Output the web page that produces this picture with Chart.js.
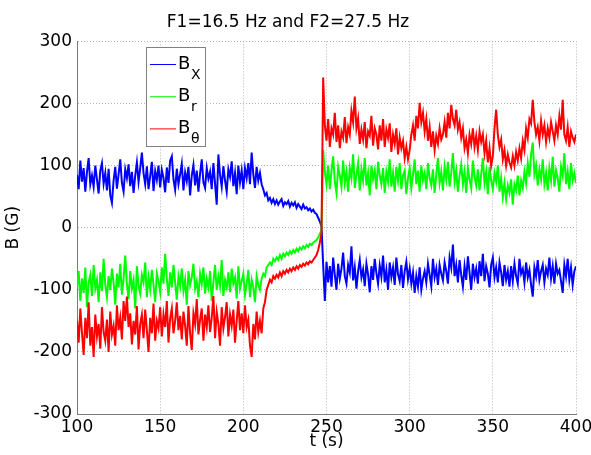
<!DOCTYPE html>
<html>
<head>
<meta charset="utf-8">
<script src="https://cdn.jsdelivr.net/npm/chart.js@4.4.0/dist/chart.umd.min.js"></script>
<style>
  html, body { margin: 0; padding: 0; background: #fff; }
  #myChart { display: block; }
</style>
</head>
<body>
<canvas id="myChart" width="591" height="455"></canvas>
<script>
// time axis: one sample per second, 100 s .. 400 s
const times = [];
for (let s = 100; s <= 400; s++) times.push(s);

const bx = [
  85, 62, 108, 74, 96, 58, 90, 112, 70, 84,
  66, 100, 78, 55, 92, 104, 71, 88, 60, 95,
  52, 40, 76, 98, 63, 86, 110, 72, 58, 94,
  80, 102, 67, 90, 56, 84, 105, 74, 96, 121,
  88, 70, 99, 62, 83, 106, 59, 91, 77, 100,
  65, 93, 80, 57, 97, 72, 108, 115, 78, 61,
  95, 70, 86, 103, 60, 89, 75, 98, 52, 84,
  101, 68, 92, 58, 87, 110, 73, 64, 96, 79,
  90, 62, 104, 71, 37, 118, 85, 66, 99, 76,
  58, 94, 82, 107, 67, 88, 54, 100, 73, 92,
  62, 96, 80, 104, 70, 121, 86, 64, 98, 76,
  88, 70, 62, 52, 56, 44, 48, 40, 46, 38,
  44, 37, 42, 46, 35, 41, 38, 43, 34, 40,
  36, 41, 32, 38, 34, 30, 37, 31, 33, 28,
  31, 26, 29, 24, 22, 16, 10, 2, -60, -118,
  -55, -88, -62, -95, -48, -76, -100, -58, -82, -66,
  -40, -78, -90, -60, -72, -30, -85, -64, -98, -70,
  -52, -80, -67, -94, -58, -75, -104, -62, -84, -50,
  -73, -90, -61, -79, -45, -88, -68, -100, -56, -80,
  -64, -92, -48, -75, -86, -60, -97, -70, -55, -83,
  -66, -90, -72, -105, -78, -95, -64, -100, -82, -70,
  -88, -58, -76, -94, -50, -80, -66, -92, -60, -74,
  -85, -56, -70, -90, -48, -64, -27, -78, -60, -88,
  -52, -76, -95, -62, -84, -46, -72, -100, -58, -80,
  -66, -90, -54, -78, -42, -86, -62, -74, -96, -60,
  -48, -80, -64, -88, -56, -72, -94, -60, -84, -70,
  -95, -62, -86, -58, -78, -90, -50, -74, -66, -88,
  -56, -80, -68, -92, -111, -64, -78, -52, -84, -70,
  -60, -88, -66, -76, -48, -82, -62, -90, -58, -74,
  -68, -86, -105, -60, -78, -50, -84, -64, -92, -70,
  -62
];

const br = [
  -95, -70, -118, -82, -105, -64, -128, -88, -76, -110,
  -60, -98, -84, -120, -72, -102, -50, -92, -112, -78,
  -100, -66, -88, -124, -74, -96, -58, -108, -82, -45,
  -90, -115, -70, -98, -84, -130, -62, -94, -106, -76,
  -88, -56, -112, -80, -100, -68, -92, -120, -74, -86,
  -104, -64, -90, -42, -82, -110, -72, -96, -60, -88,
  -116, -78, -94, -66, -102, -84, -124, -70, -92, -80,
  -58, -98, -86, -112, -74, -90, -64, -106, -82, -96,
  -70, -118, -88, -60, -100, -78, -94, -52, -110, -84,
  -96, -72, -104, -66, -90, -80, -114, -62, -98, -86,
  -74, -108, -90, -68, -112, -84, -96, -120, -78, -92,
  -100, -82, -74, -78, -64, -60, -56, -60, -50, -54,
  -48, -52, -44, -50, -42, -46, -40, -44, -38, -42,
  -36, -40, -34, -38, -32, -35, -30, -33, -28, -31,
  -26, -28, -24, -22, -20, -16, -10, -4, 125, 90,
  70, 100, 62, 92, 115, 74, 56, 98, 84, 66,
  108, 72, 90, 58, 96, 80, 118, 64, 86, 104,
  60, 94, 76, 112, 68, 88, 52, 100, 78, 92,
  62, 106, 84, 70, 96, 56, 90, 74, 110, 66,
  88, 58, 98, 76, 104, 62, 84, 92, 54, 80,
  96, 64, 86, 110, 70, 92, 58, 100, 76, 88,
  62, 104, 80, 68, 94, 56, 86, 112, 72, 90,
  60, 98, 78, 106, 66, 88, 120, 74, 92, 58,
  84, 102, 70, 90, 56, 96, 78, 64, 108, 82,
  68, 94, 60, 86, 112, 72, 90, 54, 98, 76,
  62, 88, 74, 100, 58, 80, 50, 72, 46, 68,
  56, 78, 37, 70, 60, 84, 52, 76, 64, 90,
  72, 104, 82, 118, 137, 86, 100, 68, 94, 78,
  110, 70, 88, 60, 96, 76, 114, 66, 92, 80,
  58, 98, 84, 120, 70, 90, 62, 104, 76, 88,
  72
];

const btheta = [
  -150, -185, -130, -170, -205, -145, -178, -120, -190, -160,
  -208, -140, -175, -155, -195, -128, -168, -182, -148, -200,
  -135, -172, -158, -190, -125, -165, -145, -180, -118, -150,
  -111, -160, -138, -188, -150, -172, -126, -196, -155, -140,
  -178, -132, -165, -200, -145, -170, -122, -182, -150, -162,
  -128, -175, -140, -160, -118, -185, -146, -130, -170, -150,
  -120, -165, -142, -180, -135, -158, -190, -126, -170, -197,
  -138, -155, -115, -172, -148, -130, -182, -140, -160, -125,
  -168, -145, -110, -178, -136, -155, -190, -128, -162, -144,
  -120, -175, -140, -158, -132, -185, -150, -118, -165, -138,
  -170, -125, -160, -148, -190, -208, -155, -180, -135, -168,
  -150, -170, -130, -120, -100, -92, -84, -88, -78, -82,
  -76, -80, -72, -78, -70, -74, -68, -72, -66, -70,
  -64, -68, -62, -66, -60, -63, -58, -61, -56, -59,
  -54, -56, -52, -48, -44, -36, -24, -8, 242, 165,
  140, 175, 130, 160, 150, 185, 138, 165, 128, 155,
  145, 178, 136, 162, 150, 188, 170, 211, 160, 176,
  135, 158, 142, 170, 128, 155, 148, 180, 132, 160,
  150, 126, 165, 140, 175, 130, 158, 145, 168, 122,
  150, 135, 160, 118, 145, 128, 140, 112, 130, 110,
  125, 150, 165, 140, 180, 160, 201, 170, 185, 155,
  175, 140, 162, 130, 155, 125, 148, 135, 160, 142,
  150, 170, 145, 185, 160, 198, 175, 165, 190, 158,
  170, 145, 160, 128, 142, 120, 150, 135, 160, 130,
  148, 125, 155, 138, 150, 120, 140, 105, 128, 100,
  115, 160, 190, 150, 130, 142, 110, 125, 100, 118,
  105, 97, 115, 100, 122, 108, 128, 112, 140, 125,
  160, 145, 175, 168, 206, 170, 150, 162, 140, 172,
  150, 165, 138, 160, 145, 170, 155, 140, 165, 150,
  180, 158, 206, 150, 140, 162, 130, 155, 145, 138,
  150
];

const xTicks = [100, 150, 200, 250, 300, 350, 400];
const yTicks = [-300, -200, -100, 0, 100, 200, 300];
const legendSubs = ['X', 'r', 'θ'];

const FONT = 'DejaVu Sans';

function points(vals) {
    return vals.map((v, i) => ({ x: times[i], y: v }));
}

// MATLAB style legend box with subscripts
const subLegend = {
    id: 'subLegend',
    afterDraw(chart) {
        const ctx = chart.ctx;
        const left = 146, top = 47, w = 59, h = 99;
        ctx.save();
        ctx.fillStyle = '#fff';
        ctx.fillRect(left, top, w, h);
        ctx.strokeStyle = '#808080';
        ctx.lineWidth = 1;
        ctx.strokeRect(left + 0.5, top + 0.5, w, h);
        chart.data.datasets.forEach((ds, i) => {
            const y = 64.5 + i * 32.2;
            ctx.strokeStyle = ds.borderColor;
            ctx.lineWidth = 1;
            ctx.beginPath();
            ctx.moveTo(150, y);
            ctx.lineTo(176, y);
            ctx.stroke();
            ctx.fillStyle = '#000';
            ctx.textBaseline = 'alphabetic';
            ctx.font = '18px "' + FONT + '"';
            ctx.fillText('B', 178, y + 4.5);
            ctx.font = '14px "' + FONT + '"';
            ctx.fillText(legendSubs[i], 191, y + 14);
        });
        ctx.restore();
    }
};

const ctx = document.getElementById('myChart').getContext('2d');
const myChart = new Chart(ctx, {
    type: 'line',
    data: {
        datasets: [{
            label: 'Bx',
            data: points(bx),
            borderColor: '#0000ff',
            borderWidth: 2,
            order: 2
        }, {
            label: 'Br',
            data: points(br),
            borderColor: '#00ff00',
            borderWidth: 2,
            order: 1
        }, {
            label: 'Bθ',
            data: points(btheta),
            borderColor: '#ff0000',
            borderWidth: 2,
            order: 0
        }]
    },
    options: {
        responsive: false,
        animation: false,
        elements: {
            point: { radius: 0 },
            line: { tension: 0, borderJoinStyle: 'miter' }
        },
        layout: {
            padding: { left: 0, right: 15, top: 0, bottom: 0 }
        },
        plugins: {
            legend: { display: false },
            tooltip: { enabled: false },
            title: {
                display: true,
                text: 'F1=16.5 Hz and F2=27.5 Hz',
                color: '#000',
                font: { family: FONT, size: 17, weight: 'normal' },
                padding: { top: 12, bottom: 9 }
            }
        },
        scales: {
            x: {
                type: 'linear',
                min: 100,
                max: 400,
                afterBuildTicks(scale) {
                    scale.ticks = xTicks.map(v => ({ value: v }));
                },
                afterFit(scale) {
                    scale.height = 41;
                    // let the "400" label hang over the right margin like MATLAB does
                    scale.paddingRight = 0;
                    scale.paddingLeft = 0;
                },
                ticks: {
                    color: '#000',
                    font: { family: FONT, size: 17 },
                    padding: 3,
                    maxRotation: 0,
                    autoSkip: false
                },
                grid: { color: '#b4b4b4', drawTicks: false, lineWidth: 1 },
                border: { display: true, color: '#7a7a7a', width: 1, dash: [1, 2] },
                title: {
                    display: true,
                    text: 't (s)',
                    color: '#000',
                    font: { family: FONT, size: 17 },
                    padding: { top: 0, bottom: 3 }
                }
            },
            y: {
                min: -300,
                max: 300,
                afterBuildTicks(scale) {
                    scale.ticks = yTicks.map(v => ({ value: v }));
                },
                afterFit(scale) { scale.width = 77; },
                ticks: {
                    color: '#000',
                    font: { family: FONT, size: 17 },
                    padding: 5
                },
                grid: { color: '#b4b4b4', drawTicks: false, lineWidth: 1 },
                border: { display: true, color: '#7a7a7a', width: 1, dash: [1, 2] },
                title: {
                    display: true,
                    text: 'B (G)',
                    color: '#000',
                    font: { family: FONT, size: 17 },
                    padding: { top: 3, bottom: 0 }
                }
            }
        }
    },
    plugins: [subLegend]
});
</script>
</body>
</html>
